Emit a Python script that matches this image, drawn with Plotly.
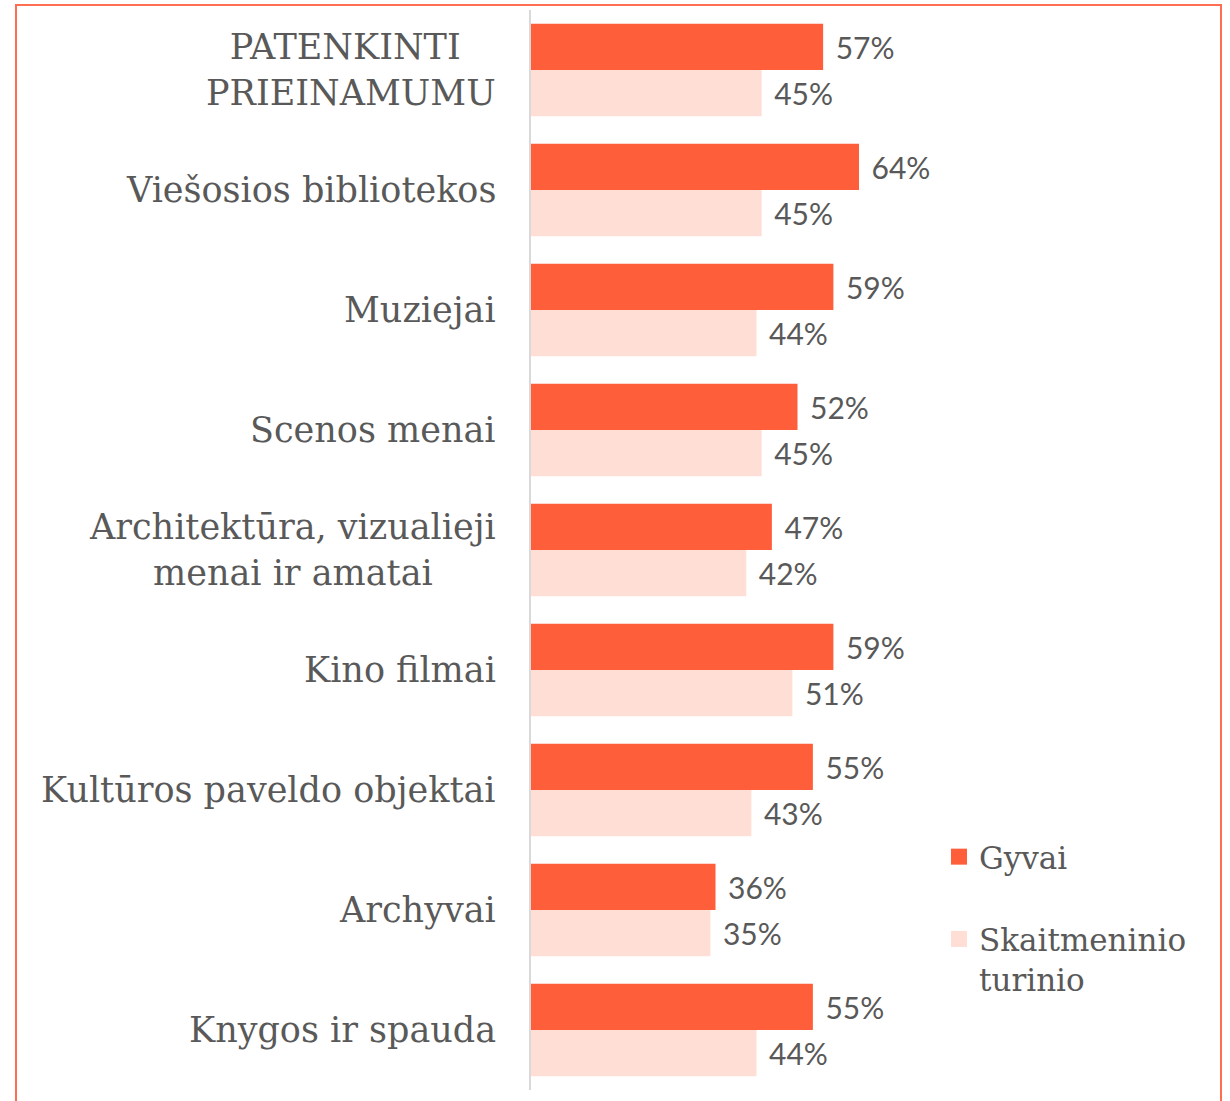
import plotly.graph_objects as go

categories = [
    "PATENKINTI\u00a0<br>PRIEINAMUMU",
    "Viešosios bibliotekos",
    "Muziejai",
    "Scenos menai",
    "Architektūra, vizualieji<br>menai ir amatai",
    "Kino filmai",
    "Kultūros paveldo objektai",
    "Archyvai",
    "Knygos ir spauda",
]
gyvai = [57, 64, 59, 52, 47, 59, 55, 36, 55]
skaitmeninio = [45, 45, 44, 45, 42, 51, 43, 35, 44]
series_names = ["Gyvai", "Skaitmeninio<br>turinio"]

ORANGE = "#FF5E3A"
PINK = "#FFDED6"
TEXT = "#595959"
W, H = 1230, 1101
L, R, T, B = 531, 10, 10, 11
pw, ph = W - L - R, H - T - B

def px_x(p):
    return (p - L) / pw

def px_y(p):
    return 1 - (p - T) / ph

fig = go.Figure()
ycat = list(range(len(categories)))
for vals, color in [(gyvai, ORANGE), (skaitmeninio, PINK)]:
    fig.add_trace(go.Bar(
        y=ycat, x=vals, orientation="h",
        marker=dict(color=color, line=dict(width=0)),
        text=[f"\u00a0\u200a{v}%" for v in vals],
        textposition="outside", cliponaxis=False,
        textfont=dict(family="Lato", size=30, color=TEXT),
        showlegend=False, hoverinfo="skip",
    ))

for i, (name, color) in enumerate(zip(series_names, [ORANGE, PINK])):
    fig.add_trace(go.Scatter(
        x=[None], y=[None], mode="markers", name=name,
        legendgroup=f"g{i}",
        marker=dict(symbol="square", size=18, color=color),
    ))

for i, c in enumerate(categories):
    fig.add_annotation(
        x=0, xref="paper", y=i, yref="y", xanchor="right", yanchor="middle",
        xshift=-33, text=c, showarrow=False, align="center",
        font=dict(family="DejaVu Serif", size=35, color=TEXT),
    )

fig.add_shape(
    type="rect", xref="paper", yref="paper",
    x0=px_x(16), x1=px_x(1221), y0=px_y(1130), y1=px_y(5),
    line=dict(color="#FF6E50", width=2), fillcolor="rgba(0,0,0,0)", layer="above",
)

fig.update_layout(
    width=W, height=H,
    margin=dict(l=L, r=R, t=T, b=B),
    paper_bgcolor="white", plot_bgcolor="white",
    barmode="group", bargap=0.23, bargroupgap=0,
    xaxis=dict(range=[0, pw / 5.125], visible=False),
    yaxis=dict(
        autorange="reversed", showticklabels=False, showgrid=False,
        zeroline=False, showline=True, linecolor="#D9D9D9", linewidth=2,
    ),
    legend=dict(
        x=px_x(939), y=px_y(830), xanchor="left", yanchor="top",
        font=dict(family="DejaVu Serif", size=31, color=TEXT),
        tracegroupgap=39, valign="top", bgcolor="rgba(0,0,0,0)",
        itemwidth=30,
    ),
)

fig.write_html(
    "out.html",
    config={"displayModeBar": False},
    post_script="document.body.style.margin='0';document.body.style.overflow='hidden';",
)
